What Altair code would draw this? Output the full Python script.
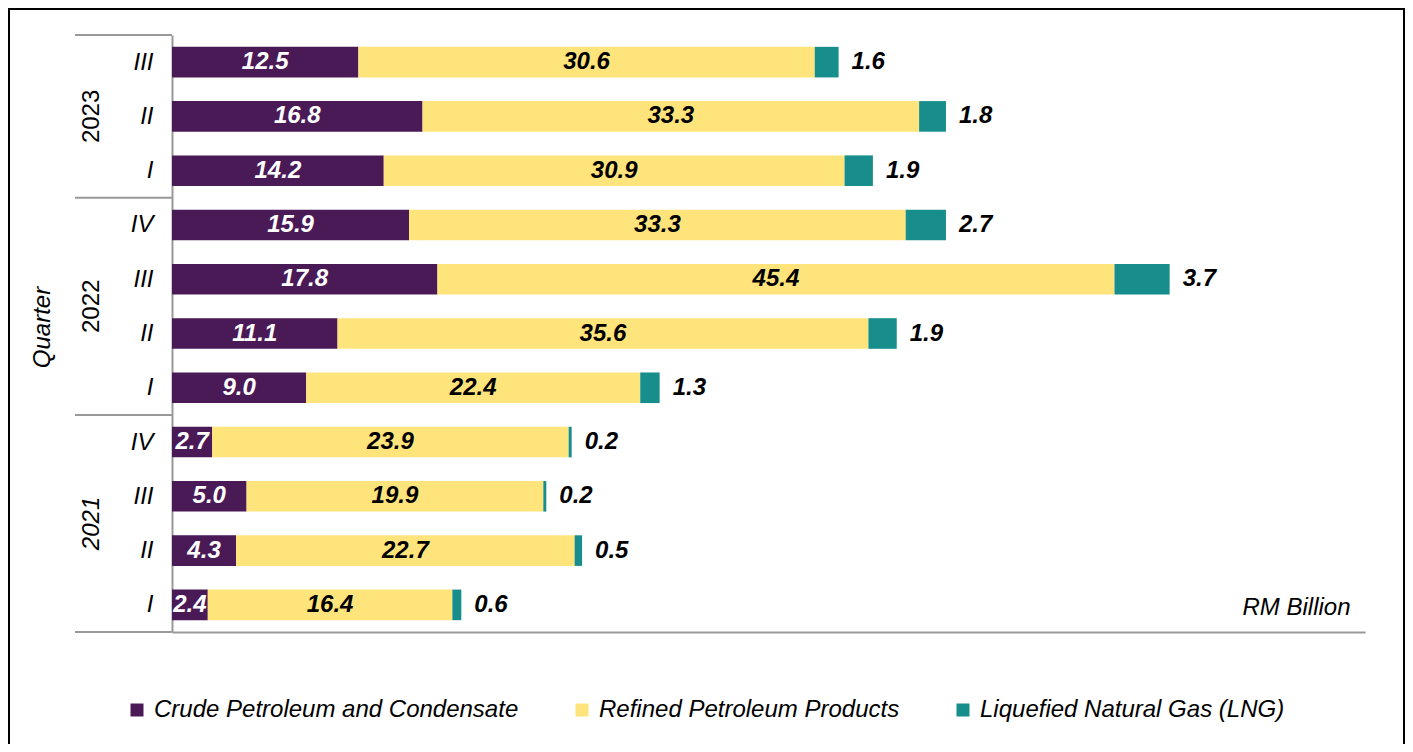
import json
import altair as alt
import pandas as pd

# ---- data (top row first) ----
years = ["2023", "2023", "2023", "2022", "2022", "2022", "2022", "2021", "2021", "2021", "2021"]
quarters = ["III", "II", "I", "IV", "III", "II", "I", "IV", "III", "II", "I"]
crude = [12.5, 16.8, 14.2, 15.9, 17.8, 11.1, 9.0, 2.7, 5.0, 4.3, 2.4]
refined = [30.6, 33.3, 30.9, 33.3, 45.4, 35.6, 22.4, 23.9, 19.9, 22.7, 16.4]
lng = [1.6, 1.8, 1.9, 2.7, 3.7, 1.9, 1.3, 0.2, 0.2, 0.5, 0.6]

series_names = ["Crude Petroleum and Condensate", "Refined Petroleum Products", "Liquefied Natural Gas (LNG)"]
series_colors = ["#4a1a57", "#ffe47b", "#178e8c"]

FONT = "Liberation Sans"
FS = 24

rows = []
labels = []
for i, (yr, q, c, r, l) in enumerate(zip(years, quarters, crude, refined, lng)):
    start = 0.0
    for k, (name, v) in enumerate(zip(series_names, [c, r, l])):
        rows.append(dict(row=i, year=yr, quarter=q, series=name, order=k, value=v))
        kind = ["crude", "refined", "lng"][k]
        pos = start + v / 2 if kind != "lng" else start + v
        labels.append(dict(row=i, pos=pos, value=v, kind=kind))
        start += v
df = pd.DataFrame(rows)
lab = pd.DataFrame(labels)

# year groups
year_names = []
for y in years:
    if y not in year_names:
        year_names.append(y)
year_df = pd.DataFrame([
    dict(row=sum(i for i, y in enumerate(years) if y == yn) / years.count(yn), year=yn)
    for yn in year_names
])
bounds = [-0.5] + [i + 0.5 for i in range(len(years) - 1) if years[i] != years[i + 1]] + [len(years) - 0.5]
sep_df = pd.DataFrame({"row": bounds})

W, H = 1193, 597
xscale = alt.Scale(domain=[0, 80], nice=False, zero=True, padding=0)
yscale = alt.Scale(domain=[-0.5, len(years) - 0.5], reverse=True, nice=False, zero=False, padding=0)

label_expr = json.dumps(quarters) + "[datum.value]"
yaxis = alt.Axis(
    values=list(range(len(years))), labelExpr=label_expr, grid=False, ticks=False,
    domainColor="#999999", domainWidth=2,
    labelFont=FONT, labelFontSize=FS, labelFontStyle="italic", labelColor="#000000",
    labelPadding=19, title="Quarter", titleFont=FONT, titleFontSize=FS,
    titleFontStyle="italic", titleFontWeight="normal", titleColor="#000000",
    titleX=-130, titleY=292, titleAngle=270, titleAlign="center", titleBaseline="middle",
)
xaxis = alt.Axis(
    labels=False, ticks=False, grid=False, domainColor="#999999", domainWidth=2,
    title="RM Billion", titleFont=FONT, titleFontSize=FS, titleFontStyle="italic",
    titleFontWeight="normal", titleColor="#000000", titleX=1178, titleY=-18,
    titleAlign="right", titleBaseline="alphabetic",
)

y_enc = alt.Y("row:Q", scale=yscale, axis=yaxis)

bars = alt.Chart(df).mark_bar(size=30.6, orient="horizontal").encode(
    x=alt.X("value:Q", stack="zero", scale=xscale, axis=xaxis),
    y=y_enc,
    color=alt.Color(
        "series:N",
        scale=alt.Scale(domain=series_names, range=series_colors),
        legend=alt.Legend(
            orient="none", legendX=-47, legendY=663, direction="horizontal", title=None,
            symbolType="square", symbolSize=169, symbolStrokeWidth=0,
            labelFont=FONT, labelFontSize=FS, labelFontStyle="italic", labelColor="#000000",
            labelOffset=5, columnPadding=51, labelLimit=1000,
        ),
    ),
    order=alt.Order("order:Q"),
)

def text_layer(kind, color, align, dx):
    return alt.Chart(lab).transform_filter(alt.datum.kind == kind).mark_text(
        font=FONT, fontSize=FS, fontStyle="italic", fontWeight="bold",
        color=color, align=align, baseline="middle", dx=dx,
    ).encode(
        x=alt.X("pos:Q", scale=xscale, axis=xaxis),
        y=y_enc,
        text=alt.Text("value:Q", format=".1f"),
    )

t_crude = text_layer("crude", "#ffffff", "center", 0)
t_ref = text_layer("refined", "#000000", "center", 0)
t_lng = text_layer("lng", "#000000", "left", 13)

seps = alt.Chart(sep_df).mark_rule(color="#999999", strokeWidth=2).encode(
    x=alt.value(-97), x2=alt.value(0), y=y_enc,
)

def year_layer(cond, style):
    return alt.Chart(year_df).transform_filter(cond).mark_text(
        font=FONT, fontSize=FS, fontStyle=style, angle=270, align="center",
        baseline="middle", color="#000000",
    ).encode(
        x=alt.value(-80), y=y_enc, text="year:N",
    )

year_up = year_layer(alt.datum.year != "2021", "normal")
year_it = year_layer(alt.datum.year == "2021", "italic")

border = alt.Chart(pd.DataFrame({"a": [0]})).mark_rect(
    fillOpacity=0, stroke="#000000", strokeWidth=2,
).encode(
    x=alt.value(-163), x2=alt.value(1232), y=alt.value(-26), y2=alt.value(730),
)

chart = alt.layer(border, bars, t_crude, t_ref, t_lng, seps, year_up, year_it).properties(
    width=W, height=H,
    autosize=alt.AutoSizeParams(type="none"),
    padding={"left": 164, "top": 27, "right": 40, "bottom": 112},
    background="#ffffff",
).configure_view(stroke=None)

chart.save("out.html", embed_options={"renderer": "svg", "actions": False})
